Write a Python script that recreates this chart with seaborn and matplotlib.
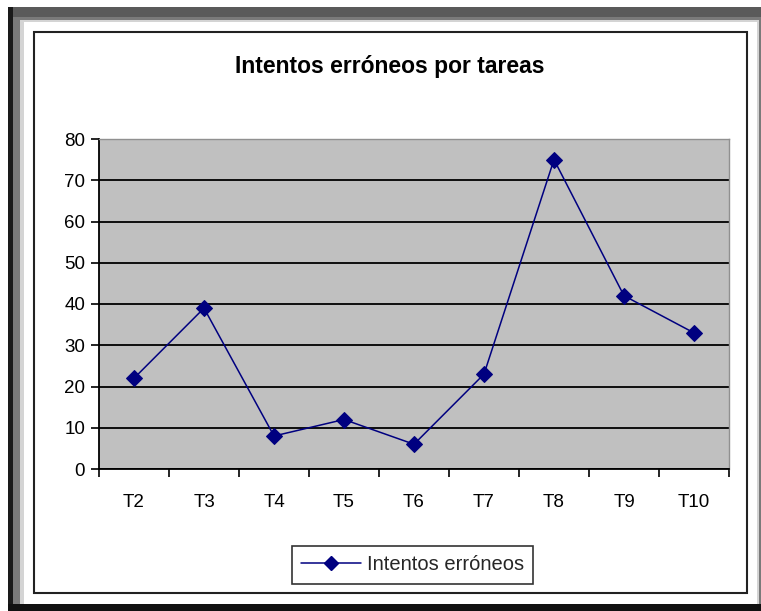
import matplotlib
matplotlib.use("Agg")
import matplotlib.pyplot as plt
from matplotlib.patches import Rectangle
from matplotlib.lines import Line2D
import seaborn as sns
import pandas as pd

categories = ["T2", "T3", "T4", "T5", "T6", "T7", "T8", "T9", "T10"]
values = [22, 39, 8, 12, 6, 23, 75, 42, 33]
series_name = "Intentos erróneos"
title = "Intentos erróneos por tareas"
yticks = [0, 10, 20, 30, 40, 50, 60, 70, 80]

sns.set_theme(style="white")
plt.rcParams['font.family'] = ['Liberation Sans', 'DejaVu Sans']

W, H = 761, 611
fig = plt.figure(figsize=(W / 100, H / 100), dpi=100)
fig.patch.set_facecolor("white")

def box(x0, y0, x1, y1):
    return (x0 / W, 1 - y1 / H, (x1 - x0) / W, (y1 - y0) / H)

def rect(x0, y0, x1, y1, fc, ec="none", lw=0):
    l, b, w, h = box(x0, y0, x1, y1)
    fig.patches.append(Rectangle((l, b), w, h, transform=fig.transFigure,
                                 facecolor=fc, edgecolor=ec, linewidth=lw, zorder=-5))

# window frame
rect(8, 7, 761, 611, "#5a5a5a")
rect(8, 7, 13, 611, "#1a1a1a")
rect(8, 604, 761, 611, "#111111")
rect(13, 17, 761, 604, "#7a7a7a")
rect(20, 20, 759, 604, "#d4d4d4")
rect(24, 22, 757, 604, "white")
# chart area border
rect(34, 32, 747, 593, "white", ec="#222222", lw=1.5)

df = pd.DataFrame({"Tarea": categories, "Valor": values})

l, b, w, h = box(99, 139, 729, 469)
ax = fig.add_axes([l, b, w, h])
ax.set_facecolor("#c0c0c0")
sns.lineplot(data=df, x="Tarea", y="Valor", ax=ax, color="#000080",
             marker="D", markersize=8, markeredgecolor="#000080",
             linewidth=1.1, sort=False)

ax.set_xlim(-0.5, len(categories) - 0.5)
ax.set_ylim(0, 80)
ax.set_yticks(yticks)
ax.yaxis.grid(True, color="black", linewidth=1.3)
ax.set_axisbelow(True)
ax.set_xlabel("")
ax.set_ylabel("")
ax.set_xticks(range(len(categories)))
ax.set_xticklabels(categories)
ax.set_xticks([i - 0.5 for i in range(len(categories) + 1)], minor=True)
ax.tick_params(axis="x", which="major", bottom=True, length=0, pad=18,
               labelsize=13.5, colors="black")
ax.tick_params(axis="x", which="minor", bottom=True, length=6, width=1.2,
               color="black", direction="out")
ax.tick_params(axis="y", which="major", left=True, length=6, width=1.2, color="black",
               direction="out", labelsize=13.5, pad=4, colors="black")
for s in ["left", "bottom"]:
    ax.spines[s].set_color("black")
    ax.spines[s].set_linewidth(1.3)
for s in ["top", "right"]:
    ax.spines[s].set_color("#909090")
    ax.spines[s].set_linewidth(1)

fig.text(390 / W, 1 - 67 / H, title, ha="center", va="center",
         fontsize=16.5, fontweight="bold", color="black")

handle = Line2D([], [], color="#000080", marker="D", markersize=7, linewidth=1.1)
lx, ly, lw_, lh = box(288, 544, 537, 586)
leg = fig.legend([handle], [series_name], loc="center",
                 bbox_to_anchor=(lx + lw_ / 2, ly + lh / 2),
                 bbox_transform=fig.transFigure, frameon=True, fancybox=False,
                 fontsize=14.5, handlelength=3.0, borderpad=0.45, handletextpad=0.3)
leg.get_frame().set_edgecolor("black")
leg.get_frame().set_linewidth(1.2)

fig.savefig("out.png", dpi=100)
